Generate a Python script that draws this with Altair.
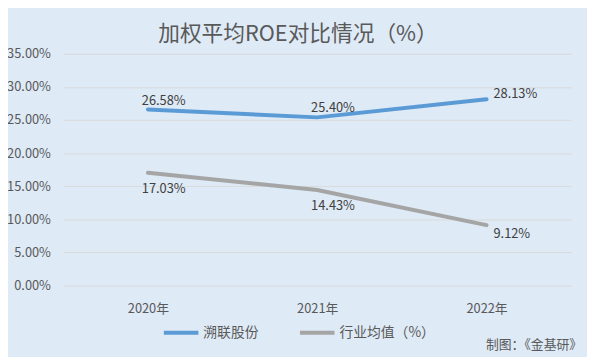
import altair as alt
import pandas as pd
import json

years = ["2020年", "2021年", "2022年"]
series_names = ["溯联股份", "行业均值（%）"]
company = [0.2658, 0.2540, 0.2813]
industry = [0.1703, 0.1443, 0.0912]
y_ticks = [0, 0.05, 0.10, 0.15, 0.20, 0.25, 0.30, 0.35]
title_text = "加权平均ROE对比情况（%）"
source_text = "制图：《金基研》"

rows = []
for y, v in zip(years, company):
    rows.append({"year": y, "series": series_names[0], "value": v})
for y, v in zip(years, industry):
    rows.append({"year": y, "series": series_names[1], "value": v})
df = pd.DataFrame(rows)

FONT = "Noto Sans CJK SC"
BLUE = "#5B9BD5"
GRAY = "#A5A5A5"
BG = "#DEEAF6"

x_enc = alt.X("year:N", sort=years, scale=alt.Scale(type="point", padding=0.5),
              axis=alt.Axis(title=None, labelAngle=0, domain=False, ticks=False,
                            labelPadding=17, labelFontSize=13, labelColor="#595959",
                            labelFont=FONT, grid=False, labelOverlap=False))
y_enc = alt.Y("value:Q", scale=alt.Scale(domain=[0, 0.35], nice=False),
              axis=alt.Axis(title=None, values=y_ticks, format=".2%", domain=False,
                            ticks=False, labelPadding=13, labelFontSize=13,
                            labelColor="#595959", labelFont=FONT, labelOverlap=False,
                            gridColor="#D9D9D9", gridWidth=1))

base = alt.Chart(df)

lines = base.mark_line(strokeWidth=4, strokeCap="round", strokeJoin="round").encode(
    x=x_enc, y=y_enc,
    color=alt.Color("series:N", sort=series_names,
                    scale=alt.Scale(domain=series_names, range=[BLUE, GRAY]),
                    legend=alt.Legend(title=None, orient="none", legendX=100, legendY=263,
                                      direction="horizontal", symbolType="stroke",
                                      symbolSize=1225, symbolStrokeWidth=4,
                                      labelFontSize=14, labelFont=FONT,
                                      labelColor="#595959", labelOffset=3,
                                      columnPadding=34)),
)

def label_layer(series, yrs, align, dx, dy):
    expr = "datum.series == %s && indexof(%s, datum.year) >= 0" % (
        json.dumps(series, ensure_ascii=False), json.dumps(yrs, ensure_ascii=False))
    return base.transform_filter(expr).mark_text(
        align=align, baseline="middle", dx=dx, dy=dy, fontSize=13,
        font=FONT, color="#404040").encode(
        x=x_enc, y=y_enc,
        text=alt.Text("value:Q", format=".2%"),
    )

labels = [
    label_layer(series_names[0], years[:2], "center", 16, -9),
    label_layer(series_names[0], years[2:], "left", 7, -5),
    label_layer(series_names[1], years[:2], "center", 16, 16),
    label_layer(series_names[1], years[2:], "left", 7, 9),
]

title = alt.Chart(pd.DataFrame({"t": [title_text]})).mark_text(
    fontSize=22, font=FONT, color="#595959", align="center", baseline="middle"
).encode(x=alt.value(238), y=alt.value(-20), text="t:N")

source = alt.Chart(pd.DataFrame({"t": [source_text]})).mark_text(
    fontSize=13, font=FONT, color="#595959", align="right", baseline="middle"
).encode(x=alt.value(526), y=alt.value(295), text="t:N")

chart = alt.layer(lines, *labels, title, source).properties(
    width=515, height=235,
    autosize=alt.AutoSizeParams(type="none"),
    padding={"left": 56, "top": 44, "right": 16, "bottom": 70},
    background=BG,
).configure_view(stroke=None)

chart.save("out.html", embed_options={"renderer": "svg", "actions": False})
